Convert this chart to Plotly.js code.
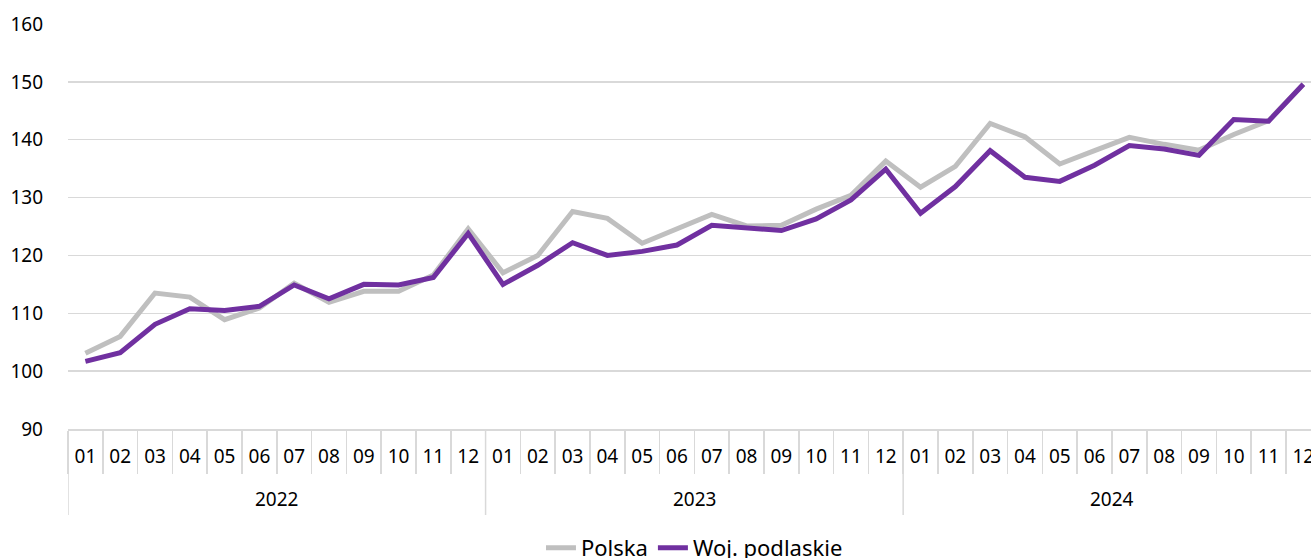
<!DOCTYPE html>
<html>
<head>
<meta charset="utf-8">
<script src="https://cdn.plot.ly/plotly-3.0.1.min.js"></script>
<style>html,body{margin:0;padding:0;overflow:hidden;background:#fff}#chart{width:1311px;height:558px}</style>
</head>
<body>
<div id="chart"></div>
<script>
const years = ['2022', '2023', '2024'];
const months = ['01','02','03','04','05','06','07','08','09','10','11','12'];
const polska = [
  103.1, 106.0, 113.5, 112.8, 108.9, 110.9, 115.2, 111.9, 113.8, 113.8, 116.6, 124.6,
  117.0, 120.0, 127.6, 126.4, 122.1, 124.7, 127.1, 125.1, 125.2, 128.0, 130.4, 136.3,
  131.8, 135.4, 142.8, 140.5, 135.8, 138.1, 140.4, 139.2, 138.2, 140.9, 143.3, 149.6
];
const podlaskie = [
  101.7, 103.2, 108.1, 110.8, 110.5, 111.2, 114.9, 112.5, 115.0, 114.9, 116.2, 123.8,
  115.0, 118.3, 122.2, 120.0, 120.7, 121.8, 125.2, 124.8, 124.3, 126.3, 129.6, 134.9,
  127.3, 131.9, 138.1, 133.5, 132.8, 135.6, 139.0, 138.4, 137.3, 143.5, 143.2, 149.6
];
const seriesNames = ['Polska', 'Woj. podlaskie'];

// category keys "YYYY-MM", shown with month text only
const cats = [], catText = [];
years.forEach(y => months.forEach(m => { cats.push(y + '-' + m); catText.push(m); }));

const grid = '#d9d9d9';
const font = 'Noto Sans, Open Sans, sans-serif';
const traces = [
  {x: cats, y: polska, name: seriesNames[0], type: 'scatter', mode: 'lines',
   line: {color: '#bfbfbf', width: 5}},
  {x: cats, y: podlaskie, name: seriesNames[1], type: 'scatter', mode: 'lines',
   line: {color: '#7030a0', width: 5}}
];

// year labels and year dividers from the category structure
const plotH = 558 - 24 - 129;
const annotations = years.map((y, i) => ({
  text: y, xref: 'x', yref: 'paper',
  x: i * months.length + (months.length - 1) / 2, y: -(499 - 429) / plotH,
  xanchor: 'center', yanchor: 'middle', showarrow: false,
  font: {size: 19, color: '#000'}
}));
const shapes = [];
for (let i = 0; i <= years.length; i++) {
  const bx = i * months.length - 0.5;
  shapes.push({type: 'line', xref: 'x', yref: 'paper', x0: bx, x1: bx, y0: 0, y1: -(515 - 429) / plotH,
               line: {color: grid, width: 1.5}, layer: 'below'});
}

const layout = {
  width: 1311, height: 558,
  margin: {l: 68, r: 0, t: 24, b: 129},
  paper_bgcolor: '#fff', plot_bgcolor: '#fff',
  font: {family: font, size: 19, color: '#000'},
  showlegend: true,
  legend: {orientation: 'h', x: 0.504, xanchor: 'center', yref: 'container', y: 0.018, yanchor: 'middle',
           font: {size: 22, color: '#000'}, traceorder: 'normal'},
  annotations: annotations,
  shapes: shapes,
  xaxis: {
    type: 'category', range: [-0.5, 35.22],
    tickmode: 'array', tickvals: cats, ticktext: catText,
    showgrid: false, showline: true, linecolor: grid, linewidth: 1.5,
    ticks: 'outside', tickson: 'boundaries', ticklen: 43, tickcolor: grid, tickwidth: 1.5,
    ticklabelstandoff: 10,
    tickfont: {size: 19, color: '#000'}, zeroline: false
  },
  yaxis: {
    range: [90, 160], dtick: 10, tick0: 90,
    showgrid: true, gridcolor: grid, gridwidth: 1.5,
    zeroline: false, showline: false, ticks: '',
    ticklabelstandoff: 24,
    tickfont: {size: 19, color: '#000'}
  }
};
Plotly.newPlot('chart', traces, layout, {staticPlot: true, displayModeBar: false});
</script>
</body>
</html>
